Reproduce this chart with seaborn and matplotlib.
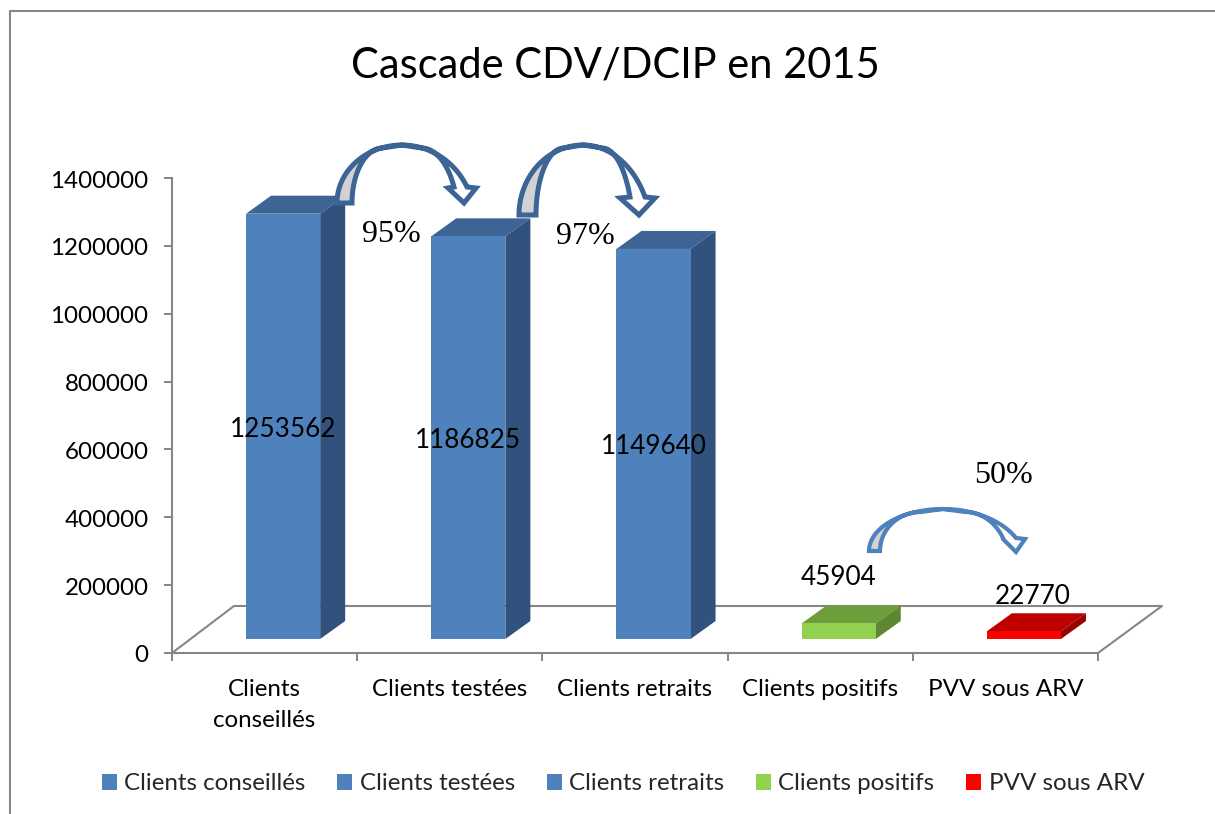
import numpy as np
import pandas as pd
import matplotlib
matplotlib.use("Agg")
import matplotlib.pyplot as plt
from matplotlib.patches import Polygon
from matplotlib.lines import Line2D
from matplotlib.transforms import Affine2D, IdentityTransform
import seaborn as sns

categories = ["Clients conseillés", "Clients testées", "Clients retraits", "Clients positifs", "PVV sous ARV"]
tick_labels = ["Clients\nconseillés", "Clients testées", "Clients retraits", "Clients positifs", "PVV sous ARV"]
values = [1253562, 1186825, 1149640, 45904, 22770]
percent_labels = ["95%", "97%", "50%"]
title_text = "Cascade CDV/DCIP en 2015"
y_ticks = [0, 200000, 400000, 600000, 800000, 1000000, 1200000, 1400000]

front_colors = ["#4f81bd", "#4f81bd", "#4f81bd", "#92d050", "#ff0000"]
top_colors = ["#3d6494", "#3d6494", "#3d6494", "#6e9d3c", "#bf0000"]
side_colors = ["#30527c", "#30527c", "#30527c", "#5f8732", "#990000"]

W, H = 1215, 814
GRAY = "#868686"
FONT = "Lato"
FS = 17.4
sns.set_theme(style="white")
plt.rcParams["font.family"] = [FONT, "DejaVu Sans"]

fig = plt.figure(figsize=(W / 100, H / 100), dpi=100, facecolor="white")
ax = fig.add_axes([172 / W, (H - 653) / H, 926 / W, 475 / H])
ax.set_zorder(1)
px = Affine2D().scale(1, -1).translate(0, H)  # top-left pixel coordinates
disp = IdentityTransform()

df = pd.DataFrame({"cat": categories, "val": values})
sns.barplot(data=df, x="cat", y="val", hue="cat", hue_order=categories,
            palette=dict(zip(categories, front_colors)), width=0.4, saturation=1,
            legend=True, ax=ax, zorder=3, linewidth=0, edgecolor="none")
ax.set_xlim(-0.5, 4.5)
ax.set_ylim(0, 1400000)
ax.set_xlabel("")
ax.set_ylabel("")
ax.patch.set_alpha(0)
ax.set_xticks([-0.5, 0.5, 1.5, 2.5, 3.5, 4.5])
ax.set_xticklabels([])
ax.set_yticks(y_ticks)
ax.set_yticklabels([str(v) for v in y_ticks], fontsize=FS, color="black")
ax.tick_params(axis="both", length=6, width=1.4, color=GRAY, pad=11, left=True, bottom=True)
for lbl in ax.get_yticklabels():
    lbl.set_transform(lbl.get_transform() + Affine2D().translate(0, -1))
for s in ("top", "right"):
    ax.spines[s].set_visible(False)
for s in ("left", "bottom"):
    ax.spines[s].set_color(GRAY)
    ax.spines[s].set_linewidth(1.5)

for i, lab in enumerate(tick_labels):
    ax.annotate(lab, (i, 0), xytext=(0, -26), textcoords="offset pixels", xycoords=("data", "axes fraction"),
                ha="center", va="top", fontsize=FS, color="black", linespacing=1.6)

# floor of the pseudo-3D chart
floor = [(172, 653), (234, 606), (1162, 606), (1098, 653)]
fig.add_artist(Line2D(*zip(*floor), transform=px, color=GRAY, lw=1.5, zorder=0.5))

DX, DY, SHIFT, LIFT = 25, 18, 0.1, 14
lift_val = LIFT / 475 * 1400000
bars = sorted([p for p in ax.patches if p.get_height() > 0], key=lambda p: p.get_x())
for i, bar in enumerate(bars):
    bar.set_x(bar.get_x() + SHIFT)
    bar.set_y(lift_val)
    bar.set_clip_on(False)
    x0, y0 = ax.transData.transform((bar.get_x(), lift_val))
    x1, y1 = ax.transData.transform((bar.get_x() + bar.get_width(), lift_val + values[i]))
    top = Polygon([(x0, y1), (x1, y1), (x1 + DX, y1 + DY), (x0 + DX, y1 + DY)], closed=True,
                  transform=disp, fc=top_colors[i], ec="none", zorder=0.6)
    side = Polygon([(x1, y0), (x1, y1), (x1 + DX, y1 + DY), (x1 + DX, y0 + DY)], closed=True,
                   transform=disp, fc=side_colors[i], ec="none", zorder=0.6)
    fig.add_artist(top)
    fig.add_artist(side)

# value labels
label_offsets = [(0, -3), (0, -3), (0, -3), (0, 54), (9, 39)]
for i, bar in enumerate(bars):
    xc = bar.get_x() + bar.get_width() / 2
    yc = lift_val + values[i] / 2
    dx, dy = label_offsets[i]
    ax.annotate(str(values[i]), (xc, yc), xytext=(dx, dy), textcoords="offset pixels",
                ha="center", va="center", fontsize=18.8, color="black", annotation_clip=False, zorder=6)

# curved arrows
def curved_arrow(xl, xr, base, xa, ytop, sl, sr, sy, wl, wr, wy, tip, color, lw):
    t = np.linspace(0, np.pi / 2, 40)
    h = base - ytop
    d = 0.3 * (xa - xl)
    outer_l = np.c_[xa - (xa - xl) * np.cos(t), base - h * np.sin(t)]
    inner_l = np.c_[(xa - d) - (xa - d - xr) * np.cos(t), base - (h - 3) * np.sin(t)]
    gray = np.vstack([outer_l, inner_l[::-1]])
    # right-hand arcs belong to a taller ellipse, so they reach the head on a slope
    b = 1.3 * h
    te = np.arcsin((ytop + b - sy) / b)
    tr = np.linspace(np.pi / 2, te, 40)
    a_o = (sr - xa) / np.cos(te)
    outer_r = np.c_[xa + a_o * np.cos(tr), ytop + b - b * np.sin(tr)]
    b_i = b - 3
    te_i = np.arcsin((ytop + 3 + b_i - sy) / b_i)
    tr_i = np.linspace(np.pi / 2, te_i, 40)
    a_i = (sl - xa - d) / np.cos(te_i)
    inner_r = np.c_[(xa + d) + a_i * np.cos(tr_i), ytop + 3 + b_i - b_i * np.sin(tr_i)]
    white = np.vstack([outer_r, [(wr, wy), tip, (wl, wy)], inner_r[::-1]])
    fig.add_artist(Polygon(white, closed=True, transform=px, fc="white", ec=color, lw=lw, joinstyle="miter", zorder=4))
    fig.add_artist(Polygon(gray, closed=True, transform=px, fc="#d2d2d2", ec=color, lw=lw, joinstyle="miter", zorder=4))

curved_arrow(337, 352, 203, 402, 145, 454, 467, 187, 448, 476, 188, (464, 203), "#3c6494", 3.6)
curved_arrow(519, 536, 215, 583, 145, 630, 645, 197, 620, 655, 198, (639, 215), "#3c6494", 3.6)
curved_arrow(869, 880, 551, 943, 509, 1003, 1016, 538, 1003, 1025, 539, (1016, 552), "#4f81bd", 3.0)

for lab, (x, y) in zip(percent_labels, [(391, 234), (585, 236), (1004, 476)]):
    fig.text(x / W, 1 - y / H, lab, family="Liberation Serif", fontsize=23, ha="center", va="center", color="black", zorder=7)

fig.text(615 / W, 1 - 65 / H, title_text, fontsize=30, ha="center", va="center", color="black", zorder=7)

# outer frame
fig.add_artist(Line2D([10, 10, 1215], [814, 11, 11], transform=px, color=GRAY, lw=1.5, zorder=0.2))

# legend
sns.move_legend(ax, "center", bbox_to_anchor=(623 / W, 1 - 784 / H), bbox_transform=fig.transFigure,
                ncol=5, frameon=False, title=None, fontsize=FS, handlelength=0.62, handleheight=0.62,
                handletextpad=0.3, columnspacing=1.32, borderpad=0, borderaxespad=0)
for h in ax.get_legend().legend_handles:
    h.set_edgecolor("none")

fig.savefig("out.png", dpi=100)
